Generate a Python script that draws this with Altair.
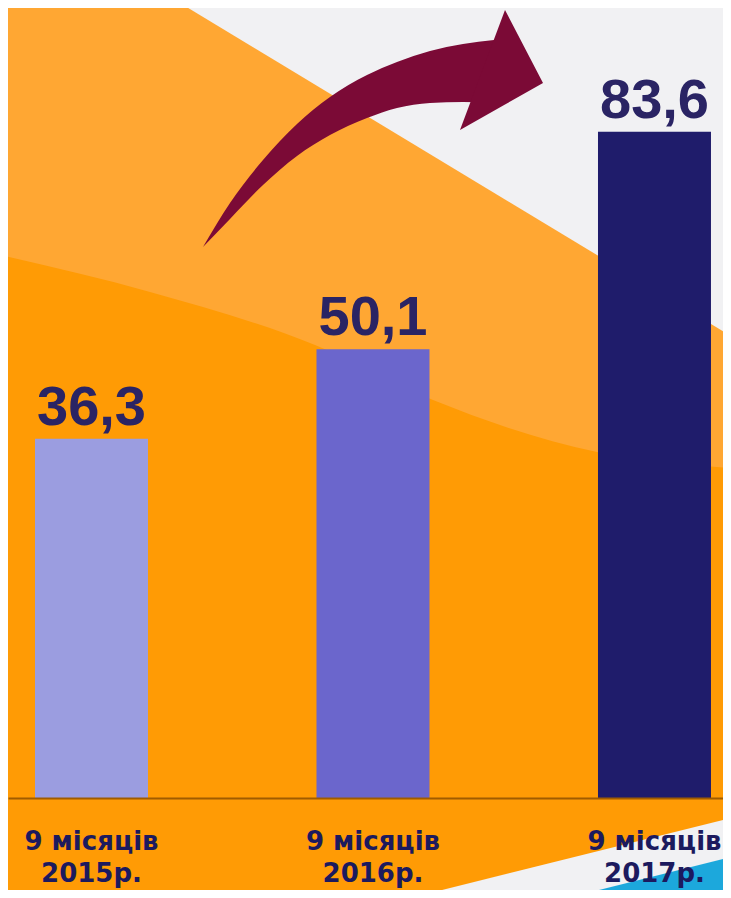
import altair as alt
import pandas as pd

# ---- chart data ----
periods = ["9 місяців\n2015р.", "9 місяців\n2016р.", "9 місяців\n2017р."]
values = [36.3, 50.1, 83.6]
value_labels = ["36,3", "50,1", "83,6"]
bar_colors = ["#9b9de0", "#6b66cc", "#1f1c6b"]

# ---- decorative background shapes (canvas units = page pixels) ----
light_band_x = [0, 150, 315, 433, 597, 731]
light_band_y = [255, 292, 345, 400, 452, 468]
white_x = [175, 731]
white_y = [0, 336]
stripe_white_x = [410, 731]
stripe_white_y = [898, 818]
stripe_blue_x = [567, 731]
stripe_blue_y = [898, 857]
shaft_x = [203, 230, 263, 297, 330, 367, 397, 430, 463, 494]
shaft_upper = [247, 203, 160, 124, 97, 75, 62, 51, 44, 40]
shaft_lower = [247, 219, 185, 156, 135, 118, 108, 103, 102, 103]
head_x = [460, 505, 543]
head_upper = [130, 10, 83]
head_lower = [130, 104.5, 83]

DARK_ORANGE = "#ff9b05"
LIGHT_ORANGE = "#ffa733"
WHITE = "#f1f1f3"
BLUE = "#1ca8dc"
ARROW = "#7b0a36"

Y_MIN, Y_MAX = -19.03, 102.68

CX = alt.Scale(domain=[8, 723], nice=False, zero=False)
CY = alt.Scale(domain=[8, 798], reverse=True, nice=False, zero=False)


def band(xs, ys, y2s, color, interp="linear"):
    df = pd.DataFrame({"x": xs, "y": ys, "y2": y2s})
    return alt.Chart(df).mark_area(color=color, interpolate=interp).encode(
        x=alt.X("x:Q", scale=CX, axis=None),
        y=alt.Y("y:Q", scale=CY, axis=None),
        y2="y2:Q",
    )


light = band(light_band_x, light_band_y, [0] * len(light_band_x), LIGHT_ORANGE, "monotone")
white = band(white_x, white_y, [0] * len(white_x), WHITE)
stripe_w = band(stripe_white_x, stripe_white_y, [898] * len(stripe_white_x), WHITE)
stripe_b = band(stripe_blue_x, stripe_blue_y, [898] * len(stripe_blue_x), BLUE)
shaft = band(shaft_x, shaft_upper, shaft_lower, ARROW, "monotone")
head = band(head_x, head_upper, head_lower, ARROW)

bars_df = pd.DataFrame({"period": periods, "value": values, "label": value_labels})

x_enc = alt.X(
    "period:N",
    sort=periods,
    scale=alt.Scale(paddingInner=0.5986, paddingOuter=0.0693, align=0.692),
    axis=alt.Axis(
        orient="bottom",
        title=None,
        domainColor="#a05c00",
        domainWidth=2,
        ticks=False,
        tickSize=0,
        grid=False,
        labelAngle=0,
        labelFont="DejaVu Sans",
        labelFontWeight="bold",
        labelFontSize=26,
        labelColor="#1c1a5e",
        labelLineHeight=32,
        labelPadding=30,
        labelBaseline="top",
        labelExpr="split(datum.label, '\\n')",
        zindex=1,
    ),
)
y_enc = alt.Y("value:Q", scale=alt.Scale(domain=[Y_MIN, Y_MAX], nice=False, zero=False), axis=None)

base = alt.Chart(bars_df).encode(x=x_enc, y=y_enc)

bars = base.mark_bar().encode(
    y2=alt.datum(Y_MIN),
    color=alt.Color("period:N", scale=alt.Scale(domain=periods, range=bar_colors), legend=None),
)

labels = base.mark_text(
    font="Liberation Sans",
    fontWeight="bold",
    fontSize=56,
    color="#2a2464",
    baseline="alphabetic",
    align="center",
    dy=-14,
).encode(text="label:N")

main = alt.layer(bars, labels)

chart = (
    alt.layer(light, white, stripe_w, stripe_b, shaft, head, main)
    .resolve_scale(x="independent", y="independent")
    .properties(
        width=715,
        height=790,
        autosize=alt.AutoSizeParams(type="none"),
        padding={"left": 0, "right": 0, "top": 0, "bottom": 92},
        background=DARK_ORANGE,
    )
    .configure_view(stroke=None)
)

chart.save("out.html", embed_options={"renderer": "svg", "actions": False})
